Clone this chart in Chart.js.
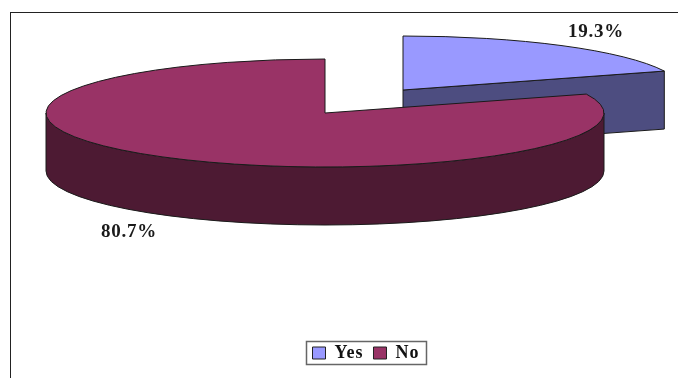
<!DOCTYPE html>
<html>
<head>
<meta charset="utf-8">
<script src="https://cdn.jsdelivr.net/npm/chart.js@4/dist/chart.umd.min.js"></script>
<style>
body{margin:0;background:#fff}
canvas{display:block}
</style>
</head>
<body>
<canvas id="pie" width="678" height="378"></canvas>
<script>
const categories=["Yes","No"];
const percents=[19.3,80.7];
const topColors=["#9999ff","#993366"];
const sideColors=["#4d4d80","#4d1a33"];
const percentLabelSpots=[[596,32],[129,232]];

// look of the 3d pie, in page pixels
const CX=325,CY=113,RX=279,RY=54,DEPTH=58;
const EXPLODE=[[78,-23],[0,0]];
const SERIF='"Liberation Serif", serif';

const pie3d={
    id:'pie3d',
    beforeLayout(chart){chart.ctx.letterSpacing='1px';},
    beforeDraw(chart){
        const ctx=chart.ctx;
        ctx.save();
        ctx.strokeStyle='#222'; ctx.lineWidth=1;
        ctx.strokeRect(10.5,12.5,720,420);
        ctx.restore();
    },
    beforeDatasetDraw(chart){
        const ctx=chart.ctx, arcs=chart.getDatasetMeta(0).data;
        arcs.forEach((arc,i)=>{
            const x=CX+EXPLODE[i][0], y=CY+EXPLODE[i][1];
            const a0=arc.startAngle, a1=arc.endAngle;
            ctx.save();
            ctx.strokeStyle='#1a1a1a'; ctx.lineWidth=1; ctx.lineJoin='round';
            ctx.fillStyle=sideColors[i];

            // outer wall, only where the rim faces the viewer
            const from=Math.max(a0,0), to=Math.min(a1,Math.PI);
            if(to>from){
                ctx.beginPath();
                ctx.ellipse(x,y,RX,RY,0,from,to);
                ctx.ellipse(x,y+DEPTH,RX,RY,0,to,from,true);
                ctx.closePath(); ctx.fill(); ctx.stroke();
            }
            // cut face at the end of the slice, only the yes slice shows one
            if(a1<Math.PI/2){
                const ex=x+RX*Math.cos(a1), ey=y+RY*Math.sin(a1);
                ctx.beginPath();
                ctx.moveTo(x,y); ctx.lineTo(ex,ey); ctx.lineTo(ex,ey+DEPTH); ctx.lineTo(x,y+DEPTH);
                ctx.closePath(); ctx.fill(); ctx.stroke();
            }
            // top face comes from the library's arc, squashed
            ctx.save();
            ctx.translate(x,y);
            ctx.scale(RX/arc.outerRadius,RY/arc.outerRadius);
            ctx.translate(-arc.x,-arc.y);
            arc.draw(ctx);
            ctx.restore();
            ctx.beginPath();
            ctx.moveTo(x,y);
            ctx.ellipse(x,y,RX,RY,0,a0,a1);
            ctx.closePath(); ctx.stroke();
            ctx.restore();
        });
        return false;
    },
    afterDraw(chart){
        const ctx=chart.ctx, boxes=chart.legend.legendHitBoxes;
        ctx.save();
        ctx.font='bold 19px '+SERIF;
        ctx.fillStyle='#1a1a1a';
        ctx.textAlign='center'; ctx.textBaseline='middle';
        ctx.letterSpacing='0.8px';
        percents.forEach((v,i)=>ctx.fillText(v.toFixed(1)+'%',percentLabelSpots[i][0],percentLabelSpots[i][1]));
        // box round the legend
        ctx.letterSpacing='0px';
        const l=Math.min(...boxes.map(b=>b.left)), r=Math.max(...boxes.map(b=>b.left+b.width));
        const t=Math.min(...boxes.map(b=>b.top)), b=Math.max(...boxes.map(b=>b.top+b.height));
        ctx.strokeStyle='#666'; ctx.lineWidth=1.5;
        ctx.strokeRect(Math.round(l)-6.5,Math.round(t)-2.5,r-l+13,b-t+5);
        ctx.restore();
    }
};

new Chart(document.getElementById('pie').getContext('2d'),{
    type:'pie',
    data:{labels:categories,datasets:[{data:percents,backgroundColor:topColors,borderWidth:0}]},
    options:{
        responsive:false,animation:false,
        layout:{padding:{left:54,bottom:6}},
        plugins:{
            tooltip:{enabled:false},
            legend:{
                position:'bottom',
                labels:{
                    font:{family:SERIF,size:18,weight:'bold'},color:'#111',
                    boxWidth:13,boxHeight:12,padding:10,
                    generateLabels(chart){
                        return Chart.overrides.pie.plugins.legend.labels.generateLabels(chart)
                            .map(item=>({...item,lineWidth:1,strokeStyle:'#222'}));
                    }
                }
            }
        }
    },
    plugins:[pie3d]
});
</script>
</body>
</html>
